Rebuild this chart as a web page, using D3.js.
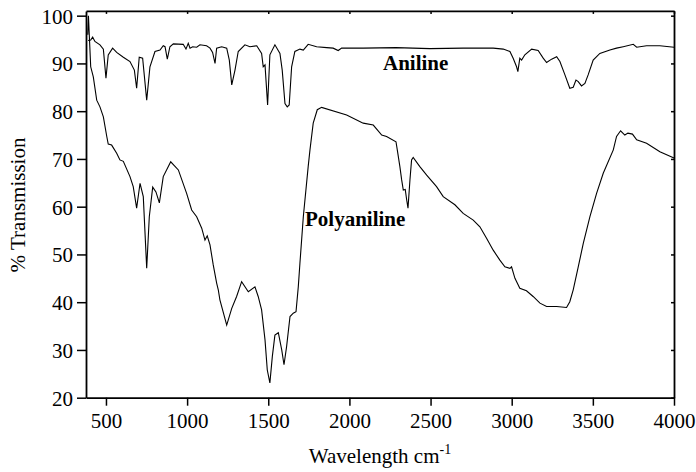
<!DOCTYPE html>
<html><head><meta charset="utf-8">
<script src="https://cdn.jsdelivr.net/npm/d3@7"></script>
<style>body{margin:0;background:#fff}svg{display:block}text{font-family:"Liberation Serif","Times New Roman",serif;fill:#000}</style>
</head><body>
<script>
const xTicks = [500,1000,1500,2000,2500,3000,3500,4000];
const yTicks = [20,30,40,50,60,70,80,90,100];
const anilineX = [390,406,418,432,463,484,500,514,541,566,607,648,675,689,705,726,751,771,802,833,853,864,878,894,915,976,993,1007,1018,1034,1059,1079,1120,1141,1157,1172,1182,1213,1244,1260,1275,1295,1315,1356,1387,1429,1459,1469,1480,1496,1510,1541,1572,1586,1603,1617,1629,1644,1664,1695,1716,1746,1798,1860,1900,1931,1952,2085,2287,2496,2701,2886,2948,2989,3009,3030,3038,3050,3061,3081,3123,3163,3194,3215,3246,3277,3297,3328,3358,3379,3396,3410,3430,3451,3471,3502,3543,3605,3646,3687,3749,3770,3831,3913,4000];
const anilineT = [94.8,94.9,95.5,94.6,93.9,93.0,86.9,91.8,93.2,92.3,91.3,90.4,88.6,84.8,91.3,91.1,82.3,89.3,92.5,92.8,93.7,93.5,90.9,93.5,94.1,94.0,93.0,94.2,93.2,93.5,93.4,93.9,93.7,93.2,92.3,90.0,93.2,93.5,93.2,90.7,85.5,88.6,92.5,93.9,93.5,93.7,92.1,89.3,89.7,81.3,91.8,93.9,92.1,88.6,81.6,80.9,81.3,89.3,92.5,93.0,92.8,94.0,93.5,93.3,93.2,92.7,93.2,93.2,93.3,93.1,93.2,93.2,93.0,92.5,91.1,89.3,88.3,91.1,90.7,91.8,93.0,92.7,91.1,90.2,90.9,91.4,90.4,87.6,84.8,85.0,86.5,86.2,85.3,85.8,87.6,90.7,92.1,92.8,93.2,93.5,94.0,93.4,93.7,93.7,93.4];
const polyX = [388,392,406,422,443,463,484,505,514,535,566,586,607,648,668,689,710,730,751,767,788,808,829,853,899,946,997,1028,1059,1090,1110,1124,1141,1161,1182,1192,1202,1244,1275,1305,1336,1377,1418,1438,1459,1480,1494,1510,1525,1541,1562,1583,1597,1613,1634,1654,1671,1685,1695,1716,1746,1757,1777,1802,1829,1983,2085,2147,2199,2229,2287,2295,2311,2322,2332,2344,2353,2361,2373,2383,2393,2434,2476,2537,2578,2650,2701,2763,2804,2845,2886,2927,2958,2989,2999,3020,3050,3091,3132,3174,3215,3277,3338,3358,3379,3410,3441,3482,3523,3564,3626,3646,3671,3697,3716,3744,3770,3831,3913,4000];
const polyT = [96.0,100.0,89.3,87.2,82.3,80.9,78.8,74.7,73.1,72.9,71.2,69.8,69.5,66.3,64.2,59.7,64.9,62.1,47.1,57.9,64.1,63.1,60.8,66.3,69.4,67.7,62.8,59.3,57.9,55.5,53.0,53.9,52.0,47.8,44.0,42.6,40.5,35.2,38.7,41.2,44.3,42.2,43.2,41.2,38.4,32.1,25.8,23.1,28.6,33.1,33.6,30.0,26.9,30.7,37.0,37.7,38.0,43.2,48.1,57.9,68.4,71.9,77.5,80.3,80.8,79.2,77.5,77.1,75.0,74.7,73.6,71.9,68.4,65.6,63.5,63.6,61.4,59.7,65.6,69.8,70.3,68.4,66.6,64.2,62.1,60.4,58.6,57.2,55.8,53.4,50.9,48.8,47.4,47.1,47.4,45.0,42.9,42.4,41.2,39.8,39.1,39.1,38.9,40.1,42.6,47.4,52.3,57.9,62.8,67.0,71.9,74.7,75.9,75.0,75.4,75.2,74.0,73.3,71.5,70.2];
const seriesLabels = ["Aniline","Polyaniline"];

const W=696,H=472;
const FONT='"Liberation Serif","Times New Roman",serif';
const svg=d3.select("body").append("svg").attr("width",W).attr("height",H);
const x=d3.scaleLinear().domain([377,4000]).range([86,674]);
const y=d3.scaleLinear().domain([20,101]).range([397.7,10.9]);

const line=d3.line().x(d=>x(d[0])).y(d=>y(d[1]));
const aData=anilineX.map((v,i)=>[v,anilineT[i]]);
const pData=polyX.map((v,i)=>[v,polyT[i]]);
svg.append("path").datum(aData).attr("d",line).attr("fill","none").attr("stroke","#000").attr("stroke-width",1.1);
svg.append("path").datum(pData).attr("d",line).attr("fill","none").attr("stroke","#000").attr("stroke-width",1.1);

const fmt=d3.format("d");
const bx=svg.append("g").attr("transform",`translate(0,${y(20)})`).call(d3.axisBottom(x).tickValues(xTicks).tickFormat(fmt).tickSize(8).tickPadding(7).tickSizeOuter(0));
const ly=svg.append("g").attr("transform",`translate(${x(377)},0)`).call(d3.axisLeft(y).tickValues(yTicks).tickFormat(fmt).tickSize(9).tickPadding(4).tickSizeOuter(0));
const tx=svg.append("g").attr("transform",`translate(0,${y(101)})`).call(d3.axisBottom(x).tickValues(xTicks).tickSize(3).tickFormat("").tickSizeOuter(0));
const ry=svg.append("g").attr("transform",`translate(${x(4000)},0)`).call(d3.axisLeft(y).tickValues(yTicks).tickSize(3).tickFormat("").tickSizeOuter(0));
[bx,ly,tx,ry].forEach(g=>{
  g.select(".domain").attr("stroke","#000").attr("stroke-width",1.8);
  g.selectAll(".tick line").attr("stroke","#000").attr("stroke-width",1.5);
  g.selectAll("text").style("font-family",FONT).style("font-size","21px").attr("fill","#000");
});
ly.selectAll(".tick text").attr("dy","0.35em");

svg.append("text").attr("x",383).attr("y",70).style("font-size","21px").style("font-weight","bold").text(seriesLabels[0]);
svg.append("text").attr("x",305).attr("y",226).style("font-size","21px").style("font-weight","bold").text(seriesLabels[1]);

svg.append("text").attr("transform","translate(25,205) rotate(-90)").attr("text-anchor","middle").style("font-size","21px").text("% Transmission");
const xl=svg.append("text").attr("x",380).attr("y",463).attr("text-anchor","middle").style("font-size","21px");
xl.append("tspan").text("Wavelength cm");
xl.append("tspan").attr("dy","-9").style("font-size","14px").text("-1");
</script>
</body></html>
